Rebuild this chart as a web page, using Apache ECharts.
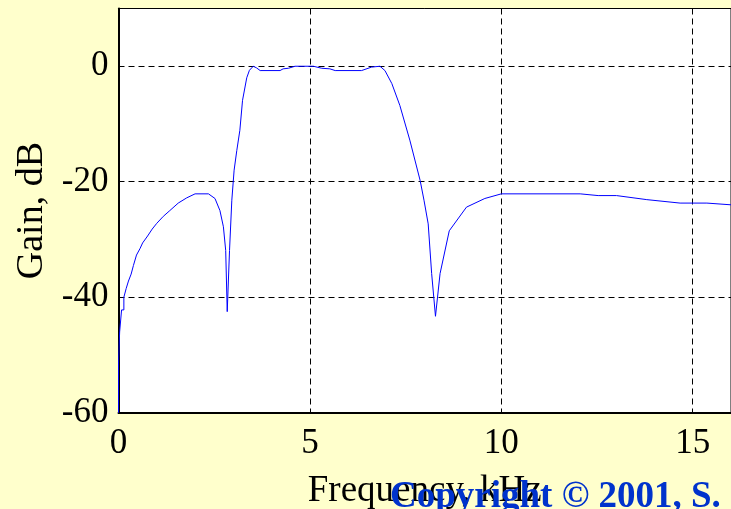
<!DOCTYPE html>
<html>
<head>
<meta charset="utf-8">
<script src="https://cdn.jsdelivr.net/npm/echarts@6/dist/echarts.min.js"></script>
<style>
html,body{margin:0;padding:0;background:#FFFFCC;}
#c{width:731px;height:509px;}
</style>
</head>
<body>
<div id="c"></div>
<script>
// Frequency (kHz) and gain (dB)
const freqKHz = [0.0, 0.0, 0.03, 0.03, 0.08, 0.08, 0.14, 0.14, 0.2, 0.26, 0.33, 0.39, 0.47, 0.56, 0.63, 0.76, 0.88, 1.0, 1.17, 1.34, 1.56, 1.78, 2.0, 2.35, 2.52, 2.65, 2.74, 2.8, 2.84, 2.9, 2.96, 3.02, 3.09, 3.17, 3.24, 3.35, 3.42, 3.52, 3.61, 3.7, 4.22, 4.3, 4.44, 4.61, 5.09, 5.31, 5.52, 5.66, 6.35, 6.61, 6.83, 6.96, 7.14, 7.35, 7.61, 7.88, 7.98, 8.09, 8.18, 8.28, 8.4, 8.64, 9.09, 9.57, 10.0, 12.06, 12.53, 13.01, 13.8, 14.67, 15.37, 16.0];
const gainDB  = [-60, -51.4, -51.4, -46, -46, -42.2, -42.2, -40, -38.5, -37.2, -36.0, -34.5, -32.7, -31.6, -30.6, -29.4, -28.2, -27.2, -26.0, -25.0, -23.7, -22.8, -22.1, -22.1, -22.9, -25.0, -27.8, -31.9, -42.5, -31.9, -23.2, -18.0, -14.6, -11.1, -5.9, -2.0, -0.7, 0.0, -0.3, -0.75, -0.75, -0.45, -0.35, 0.0, 0.0, -0.35, -0.45, -0.75, -0.75, -0.15, 0.0, -0.75, -3.0, -6.8, -12.8, -19.8, -23.2, -27.3, -35.9, -43.3, -35.9, -28.5, -24.4, -22.9, -22.1, -22.1, -22.4, -22.4, -23.1, -23.7, -23.7, -24.0];
const xTicks = [0, 5, 10, 15];
const yTicks = [-60, -40, -20, 0];
const xTitle = 'Frequency, kHz';
const yTitle = 'Gain, dB';
const copyrightText = 'Copyright © 2001, S.';

const points = freqKHz.map((f, i) => [f, gainDB[i]]);
const serif = '"Liberation Serif", "Times New Roman", serif';

const chart = echarts.init(document.getElementById('c'), null, {renderer: 'canvas'});
chart.setOption({
  backgroundColor: '#FFFFCC',
  animation: false,
  grid: {
    left: 118.5, right: 0, top: 8.5, bottom: 96.3,
    containLabel: false, outerBoundsMode: 'none',
    show: true, backgroundColor: '#FFFFFF', borderColor: '#000000', borderWidth: 1
  },
  xAxis: {
    type: 'value', min: 0, max: 16, interval: 5,
    name: xTitle, nameLocation: 'middle', nameGap: 60,
    nameTextStyle: {fontFamily: serif, fontSize: 37, color: '#000'},
    axisLine: {show: true, onZero: false, lineStyle: {color: '#000', width: 2}},
    axisTick: {show: false},
    axisLabel: {
      fontFamily: serif, fontSize: 35, color: '#000', margin: 14,
      showMaxLabel: false,
      formatter: v => xTicks.includes(v) ? String(v) : ''
    },
    splitLine: {show: true, lineStyle: {color: '#000', type: [6, 4], width: 1}}
  },
  yAxis: {
    type: 'value', min: -60, max: 10, interval: 20,
    name: yTitle, nameLocation: 'middle', nameGap: 67, nameRotate: 90,
    nameTextStyle: {fontFamily: serif, fontSize: 38, color: '#000'},
    axisLine: {show: true, onZero: false, lineStyle: {color: '#000', width: 2}},
    axisTick: {show: false},
    axisLabel: {
      fontFamily: serif, fontSize: 35, color: '#000', margin: 10,
      showMaxLabel: false,
      formatter: v => yTicks.includes(v) ? String(v) : ''
    },
    splitLine: {show: true, lineStyle: {color: '#000', type: [6, 4], width: 1}}
  },
  series: [{
    type: 'line', data: points, showSymbol: false, symbol: 'none',
    lineStyle: {color: '#0000FF', width: 1}, z: 3, clip: true
  }],
  graphic: [{
    type: 'text', left: 390, top: 479, z: 100,
    style: {text: copyrightText, fontFamily: serif, fontWeight: 'bold', fontSize: 37, fill: '#0033CC'}
  }]
});
</script>
</body>
</html>
